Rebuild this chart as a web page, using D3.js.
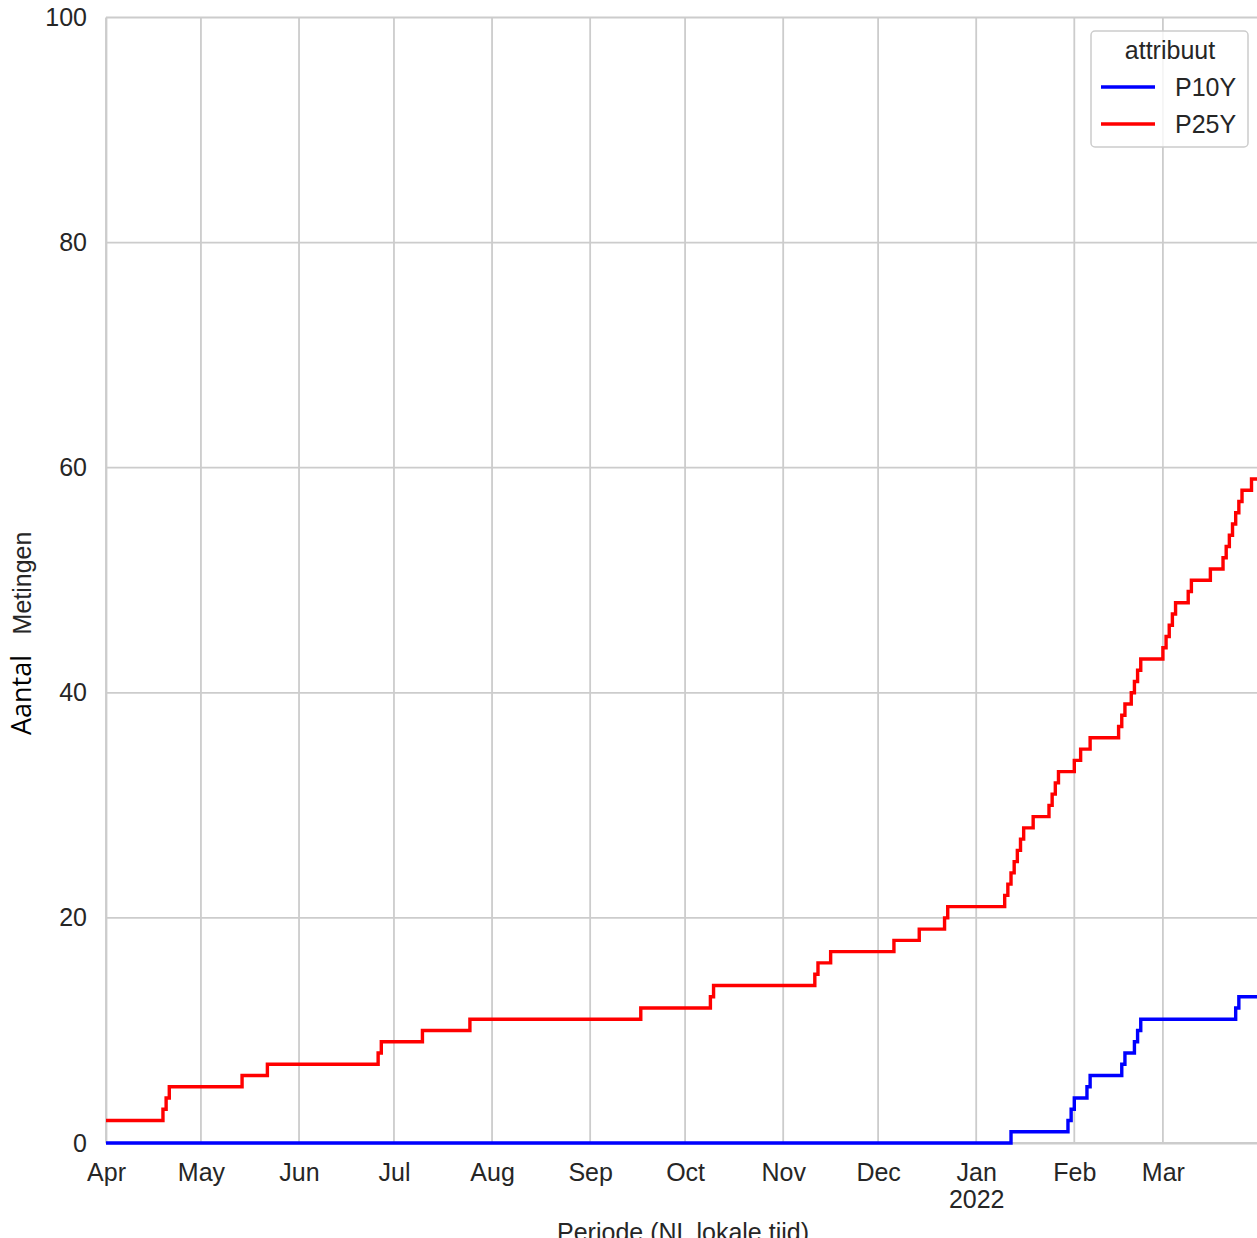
<!DOCTYPE html>
<html>
<script src='https://d3js.org/d3.v7.min.js'></script>
<style>
body {margin: 0; background: white;}
text {font-family: 'Liberation Sans', Arial, sans-serif; fill: #262626;}
.grid line {stroke: #cccccc; stroke-width: 1.8;}
</style>
<body>
<script>
// month ticks on the x axis
var monthTicks = ['2021-04-01','2021-05-01','2021-06-01','2021-07-01','2021-08-01','2021-09-01',
                  '2021-10-01','2021-11-01','2021-12-01','2022-01-01','2022-02-01','2022-03-01'];
var monthLabels = ['Apr','May','Jun','Jul','Aug','Sep','Oct','Nov','Dec','Jan','Feb','Mar'];
var yTicks = [0, 20, 40, 60, 80, 100];

var seriesNames = ['P10Y', 'P25Y'];
var seriesColors = ['blue', 'red'];

// P10Y cumulative count of measurements
var p10yDates = ['2021-04-01','2022-01-12','2022-01-30','2022-01-31','2022-02-01','2022-02-05',
                 '2022-02-06','2022-02-16','2022-02-17','2022-02-20','2022-02-21','2022-02-22',
                 '2022-03-24','2022-03-25','2022-04-01'];
var p10yValues = [0, 1, 2, 3, 4, 5, 6, 7, 8, 9, 10, 11, 12, 13, 13];

// P25Y cumulative count of measurements
var p25yDates = ['2021-04-01','2021-04-19','2021-04-20','2021-04-21','2021-05-14','2021-05-22',
                 '2021-06-26','2021-06-27','2021-07-10','2021-07-25','2021-09-17','2021-10-09',
                 '2021-10-10','2021-11-11','2021-11-12','2021-11-16','2021-12-06','2021-12-14',
                 '2021-12-22','2021-12-23','2022-01-10','2022-01-11','2022-01-12','2022-01-13',
                 '2022-01-14','2022-01-15','2022-01-16','2022-01-19','2022-01-24','2022-01-25',
                 '2022-01-26','2022-01-27','2022-02-01','2022-02-03','2022-02-06','2022-02-15',
                 '2022-02-16','2022-02-17','2022-02-19','2022-02-20','2022-02-21','2022-02-22',
                 '2022-03-01','2022-03-02','2022-03-03','2022-03-04','2022-03-05','2022-03-09',
                 '2022-03-10','2022-03-16','2022-03-20','2022-03-21','2022-03-22','2022-03-23',
                 '2022-03-24','2022-03-25','2022-03-26','2022-03-29','2022-04-01'];
var p25yValues = [2, 3, 4, 5, 6, 7, 8, 9, 10, 11, 12, 13, 14, 15, 16, 17, 18, 19, 20, 21,
                  22, 23, 24, 25, 26, 27, 28, 29, 30, 31, 32, 33, 34, 35, 36, 37, 38, 39, 40, 41,
                  42, 43, 44, 45, 46, 47, 48, 49, 50, 51, 52, 53, 54, 55, 56, 57, 58, 59, 59];

var parse = d3.timeParse('%Y-%m-%d');
var series = [
  {name: seriesNames[0], color: seriesColors[0],
   points: p10yDates.map(function(d, i) { return {date: parse(d), value: p10yValues[i]}; })},
  {name: seriesNames[1], color: seriesColors[1],
   points: p25yDates.map(function(d, i) { return {date: parse(d), value: p25yValues[i]}; })}
];

var W = 1257, H = 1238;
var plotLeft = 106, plotTop = 17.5, plotBottom = 1143, plotRight = 1261;

var x = d3.scaleTime().domain([parse('2021-04-01'), parse('2022-04-01')]).range([plotLeft, plotRight]);
var y = d3.scaleLinear().domain([0, 100]).range([plotBottom, plotTop]);

var svg = d3.select('body').append('svg')
  .attr('width', W)
  .attr('height', H);

// grid
var grid = svg.append('g').attr('class', 'grid');
grid.selectAll('line.v')
  .data(monthTicks)
  .enter().append('line')
  .attr('x1', function(d) { return x(parse(d)); })
  .attr('x2', function(d) { return x(parse(d)); })
  .attr('y1', plotTop).attr('y2', plotBottom);
grid.selectAll('line.h')
  .data(yTicks)
  .enter().append('line')
  .attr('x1', plotLeft).attr('x2', plotRight)
  .attr('y1', function(d) { return y(d); })
  .attr('y2', function(d) { return y(d); });

// axes (no tick marks, seaborn whitegrid look)
var xAxis = svg.append('g')
  .attr('transform', 'translate(0,' + plotBottom + ')')
  .call(d3.axisBottom(x).tickValues(monthTicks.map(parse)).tickSize(0).tickPadding(0)
    .tickFormat(function(d, i) { return monthLabels[i]; }));
xAxis.select('.domain').attr('stroke', '#cccccc').attr('stroke-width', 1.8);
xAxis.selectAll('.tick text')
  .attr('y', 38).attr('dy', null)
  .style('font-size', '25px')
  .style('font-family', "'Liberation Sans', Arial, sans-serif")
  .attr('fill', '#262626');
xAxis.selectAll('.tick')
  .filter(function(d, i) { return monthLabels[i] === 'Jan'; })
  .append('text')
  .attr('y', 64.5)
  .attr('text-anchor', 'middle')
  .style('font-size', '25px')
  .text('2022');

var yAxis = svg.append('g')
  .attr('transform', 'translate(' + plotLeft + ',0)')
  .call(d3.axisLeft(y).tickValues(yTicks).tickSize(0).tickPadding(19));
yAxis.select('.domain').attr('stroke', '#cccccc').attr('stroke-width', 1.8);
yAxis.selectAll('.tick text')
  .style('font-size', '25px')
  .style('font-family', "'Liberation Sans', Arial, sans-serif")
  .attr('fill', '#262626');

// lines
var line = d3.line()
  .curve(d3.curveStepAfter)
  .x(function(d) { return x(d.date); })
  .y(function(d) { return y(d.value); });

svg.selectAll('path.series')
  .data(series)
  .enter().append('path')
  .attr('class', 'series')
  .attr('d', function(d) { return line(d.points); })
  .attr('fill', 'none')
  .attr('stroke', function(d) { return d.color; })
  .attr('stroke-width', 3.4);

// axis labels
svg.append('text')
  .attr('x', 683)
  .attr('y', 1241)
  .attr('text-anchor', 'middle')
  .style('font-size', '25px')
  .text('Periode (NL lokale tijd)');

svg.append('text')
  .attr('transform', 'translate(31,695)rotate(-90)')
  .attr('text-anchor', 'middle')
  .style('font-family', "'Open Sans', sans-serif")
  .style('font-size', '27px')
  .style('fill', 'black')
  .text('Aantal');

svg.append('text')
  .attr('transform', 'translate(31,583)rotate(-90)')
  .attr('text-anchor', 'middle')
  .style('font-size', '25px')
  .text('Metingen');

// legend
var legend = svg.append('g');
legend.append('rect')
  .attr('x', 1091).attr('y', 31)
  .attr('width', 157).attr('height', 116)
  .attr('rx', 4)
  .attr('fill', 'white').attr('fill-opacity', 0.8)
  .attr('stroke', '#cccccc').attr('stroke-width', 1.5);
legend.append('text')
  .attr('x', 1170).attr('y', 59)
  .attr('text-anchor', 'middle')
  .style('font-size', '25px')
  .text('attribuut');
var item = legend.selectAll('g.item')
  .data(series)
  .enter().append('g')
  .attr('transform', function(d, i) { return 'translate(0,' + (87 + i * 37) + ')'; });
item.append('line')
  .attr('x1', 1101).attr('x2', 1155)
  .attr('stroke', function(d) { return d.color; })
  .attr('stroke-width', 3.4);
item.append('text')
  .attr('x', 1175).attr('y', 9)
  .style('font-size', '25px')
  .text(function(d) { return d.name; });
</script>
</body>
</html>
